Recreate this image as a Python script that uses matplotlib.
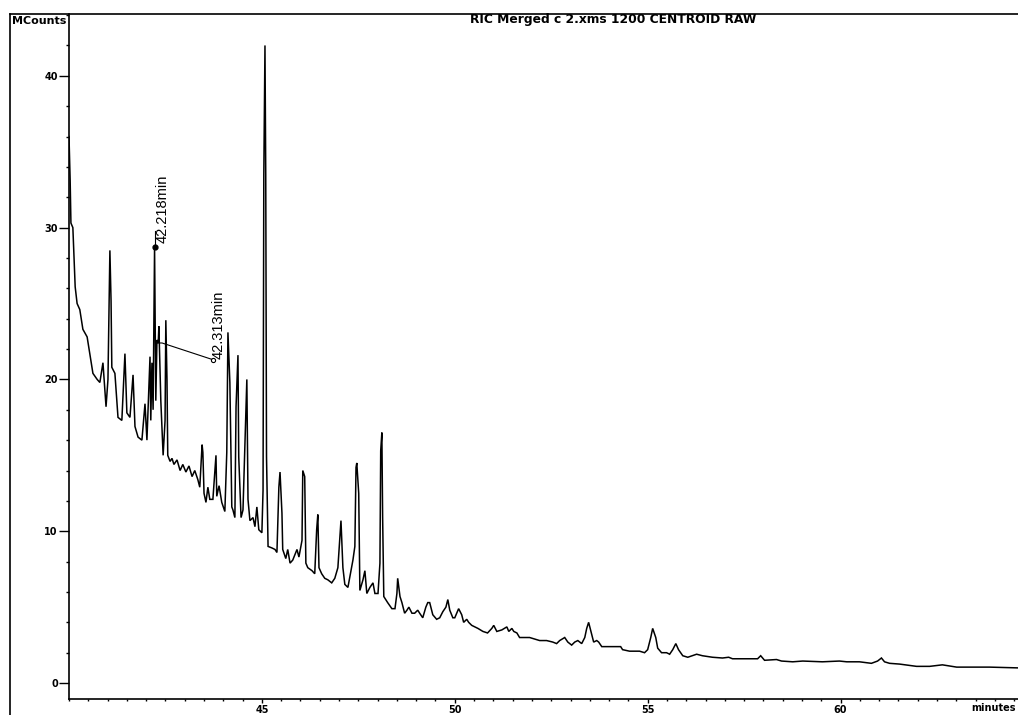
import matplotlib
matplotlib.use("Agg")
import matplotlib.pyplot as plt
from matplotlib.lines import Line2D
from matplotlib.ticker import MultipleLocator

# ---- data (minutes, MCounts) ----
time_min = [
    40.00, 40.03, 40.05, 40.10, 40.16, 40.21, 40.28, 40.36, 40.47, 40.54,
    40.62, 40.73, 40.80, 40.88, 40.96, 41.01, 41.06, 41.09, 41.11, 41.19,
    41.27, 41.37, 41.45, 41.50, 41.58, 41.66, 41.71, 41.79, 41.89, 41.97,
    42.02, 42.10, 42.12, 42.15, 42.18, 42.218, 42.25, 42.28, 42.313, 42.33,
    42.38, 42.44, 42.49, 42.51, 42.54, 42.56, 42.62, 42.67, 42.72, 42.80,
    42.88, 42.95, 43.03, 43.11, 43.19, 43.26, 43.34, 43.39, 43.45, 43.47,
    43.50, 43.55, 43.60, 43.65, 43.73, 43.81, 43.83, 43.89, 43.96, 44.04,
    44.09, 44.12, 44.17, 44.22, 44.25, 44.30, 44.33, 44.38, 44.40, 44.46,
    44.51, 44.61, 44.64, 44.69, 44.77, 44.82, 44.87, 44.92, 45.00, 45.03,
    45.05, 45.08, 45.10, 45.12, 45.16, 45.26, 45.34, 45.39, 45.44, 45.47,
    45.52, 45.54, 45.62, 45.67, 45.73, 45.80, 45.91, 45.96, 46.04, 46.06,
    46.11, 46.14, 46.19, 46.30, 46.37, 46.42, 46.45, 46.48, 46.55, 46.63,
    46.71, 46.81, 46.89, 46.97, 47.05, 47.10, 47.15, 47.23, 47.28, 47.36,
    47.41, 47.44, 47.46, 47.51, 47.54, 47.62, 47.67, 47.72, 47.80, 47.88,
    47.93, 48.01, 48.06, 48.08, 48.11, 48.13, 48.16, 48.26, 48.37, 48.45,
    48.50, 48.52, 48.58, 48.63, 48.70, 48.76, 48.81, 48.89, 48.96, 49.04,
    49.09, 49.17, 49.25, 49.30, 49.35, 49.43, 49.53, 49.61, 49.69, 49.77,
    49.82, 49.87, 49.95, 50.00, 50.05, 50.10, 50.18, 50.23, 50.31, 50.36,
    50.44, 50.52, 50.60, 50.73, 50.85, 50.96, 51.01, 51.09, 51.22, 51.35,
    51.40, 51.48, 51.53, 51.61, 51.68, 51.87, 51.94, 52.07, 52.20, 52.38,
    52.54, 52.64, 52.72, 52.85, 52.93, 53.03, 53.11, 53.19, 53.29, 53.37,
    53.42, 53.47, 53.52, 53.60, 53.68, 53.73, 53.81, 54.02, 54.22, 54.30,
    54.35, 54.53, 54.79, 54.92, 55.00, 55.08, 55.13, 55.21, 55.26, 55.36,
    55.49, 55.57, 55.65, 55.73, 55.80, 55.91, 56.04, 56.27, 56.42, 56.68,
    56.94, 57.10, 57.20, 57.56, 57.85, 57.93, 58.03, 58.34, 58.47, 58.76,
    59.02, 59.53, 59.97, 60.16, 60.49, 60.80, 60.96, 61.06, 61.14, 61.27,
    61.53, 61.97, 62.31, 62.64, 63.01, 63.86, 64.59,
]
counts = [
    36.0, 33.1, 30.3, 30.0, 26.1, 25.0, 24.6, 23.3, 22.8, 21.7,
    20.4, 20.0, 19.8, 21.1, 18.2, 20.0, 28.5, 25.2, 20.8, 20.4,
    17.5, 17.3, 21.7, 17.8, 17.5, 20.3, 16.9, 16.2, 16.0, 18.4,
    16.0, 21.5, 17.3, 21.1, 18.0, 28.7, 18.6, 22.6, 22.4, 23.5,
    18.6, 15.0, 17.3, 23.9, 20.0, 15.0, 14.6, 14.8, 14.4, 14.7,
    14.0, 14.4, 13.9, 14.3, 13.6, 14.0, 13.4, 12.9, 15.7, 15.2,
    12.5, 11.9, 12.9, 12.1, 12.1, 15.0, 12.3, 13.0, 11.9, 11.3,
    15.2, 23.1, 19.8, 11.6, 11.4, 10.9, 18.2, 21.6, 14.9, 10.9,
    11.4, 20.0, 12.1, 10.7, 10.9, 10.3, 11.6, 10.1, 9.9, 12.7,
    33.5, 42.0, 33.5, 14.9, 9.0, 8.9, 8.8, 8.6, 12.9, 13.9,
    11.2, 8.8, 8.2, 8.8, 7.9, 8.1, 8.8, 8.3, 9.4, 14.0,
    13.6, 7.9, 7.6, 7.4, 7.2, 10.1, 11.1, 7.6, 7.2, 6.9,
    6.8, 6.6, 6.9, 7.6, 10.7, 7.6, 6.5, 6.3, 7.0, 8.1,
    9.0, 14.2, 14.5, 12.5, 6.1, 6.8, 7.4, 5.9, 6.3, 6.6,
    5.9, 5.9, 7.9, 15.3, 16.5, 10.9, 5.7, 5.3, 4.9, 4.9,
    5.9, 6.9, 5.7, 5.3, 4.6, 4.8, 5.0, 4.6, 4.6, 4.8,
    4.6, 4.3, 5.0, 5.3, 5.3, 4.5, 4.2, 4.3, 4.7, 5.0,
    5.5, 4.8, 4.3, 4.3, 4.6, 4.9, 4.5, 4.0, 4.2, 4.0,
    3.8, 3.7, 3.6, 3.4, 3.3, 3.6, 3.8, 3.4, 3.5, 3.7,
    3.4, 3.6, 3.4, 3.3, 3.0, 3.0, 3.0, 2.9, 2.8, 2.8,
    2.7, 2.6, 2.8, 3.0, 2.7, 2.5, 2.7, 2.8, 2.6, 3.0,
    3.6, 4.0, 3.5, 2.7, 2.8, 2.7, 2.4, 2.4, 2.4, 2.4,
    2.2, 2.1, 2.1, 2.0, 2.2, 3.0, 3.6, 3.0, 2.3, 2.0,
    2.0, 1.9, 2.2, 2.6, 2.2, 1.8, 1.7, 1.9, 1.8, 1.7,
    1.65, 1.7, 1.6, 1.6, 1.6, 1.8, 1.5, 1.55, 1.45, 1.4,
    1.45, 1.4, 1.45, 1.4, 1.4, 1.3, 1.45, 1.65, 1.4, 1.3,
    1.25, 1.1, 1.1, 1.2, 1.05, 1.05, 1.0,
]

x_ticks = [45, 50, 55, 60]
x_tick_labels = ["45", "50", "55", "60"]
y_ticks = [0, 10, 20, 30, 40]
y_tick_labels = ["0", "10", "20", "30", "40"]

peak_times = [42.218, 42.313]
peak_values = [28.7, 22.4]
peak_labels = ["42.218min", "42.313min"]

title_text = "RIC Merged c 2.xms 1200 CENTROID RAW"
y_unit = "MCounts"
x_unit = "minutes"

# ---- figure ----
W, H = 1018, 715
fig = plt.figure(figsize=(W / 100, H / 100), dpi=100)
fig.patch.set_facecolor("white")

ax_left, ax_right, ax_top, ax_bottom = 69, 1018, 14, 699
ax = fig.add_axes([ax_left / W, (H - ax_bottom) / H,
                   (ax_right - ax_left) / W, (ax_bottom - ax_top) / H])

ax.plot(time_min, counts, color="black", lw=1.1, solid_joinstyle="miter")

ax.set_xlim(40.0, 64.6)
ax.set_ylim(-1.05, 44.07)

for s in ["top", "right"]:
    ax.spines[s].set_visible(False)
for s in ["left", "bottom"]:
    ax.spines[s].set_linewidth(1.2)

ax.set_xticks(x_ticks)
ax.set_xticklabels(x_tick_labels)
ax.set_yticks(y_ticks)
ax.set_yticklabels(y_tick_labels)
ax.xaxis.set_minor_locator(MultipleLocator(0.5))
ax.yaxis.set_minor_locator(MultipleLocator(2))
ax.tick_params(axis="y", which="major", direction="out", length=7, width=1, labelsize=7, pad=1)
ax.tick_params(axis="y", which="minor", direction="out", length=2.2, width=1)
ax.tick_params(axis="x", which="major", direction="out", length=3, width=1, labelsize=7, pad=1)
ax.tick_params(axis="x", which="minor", direction="out", length=1.5, width=1)
for lab in ax.get_xticklabels() + ax.get_yticklabels():
    lab.set_fontweight("bold")

# annotations
t1, t2 = peak_times
v1, v2 = peak_values
ax.plot([t1], [v1], "o", color="black", ms=3.5)
ax.plot([t1, t1], [v1, v1 + 1.1], color="black", lw=0.8)
ax.text(42.42, v1 + 0.3, peak_labels[0], rotation=90, ha="center", va="bottom",
        family="Liberation Sans", fontsize=10.5)
ax.plot([t2 - 0.07, t2 + 0.1, 43.73], [v2, v2, 21.3], color="black", lw=0.8)
ax.plot([43.73], [21.3], "o", mfc="white", mec="black", ms=3, mew=0.8)
ax.text(43.89, 21.35, peak_labels[1], rotation=90, ha="center", va="bottom",
        family="Liberation Sans", fontsize=10.5)

# frame lines
fig.add_artist(Line2D([10 / W, 1.0], [(H - 14) / H, (H - 14) / H], color="black", lw=1.2))
fig.add_artist(Line2D([10 / W, 10 / W], [0, (H - 14) / H], color="black", lw=1.2))

fig.text(613 / W, (H - 20) / H, title_text, ha="center", va="center",
         fontsize=8.8, fontweight="bold")
fig.text(12 / W, (H - 21) / H, y_unit, ha="left", va="center",
         fontsize=8, fontweight="bold")
fig.text(1016 / W, (H - 713) / H, x_unit, ha="right", va="bottom",
         fontsize=7, fontweight="bold")

fig.savefig("out.png", dpi=100, facecolor="white")
